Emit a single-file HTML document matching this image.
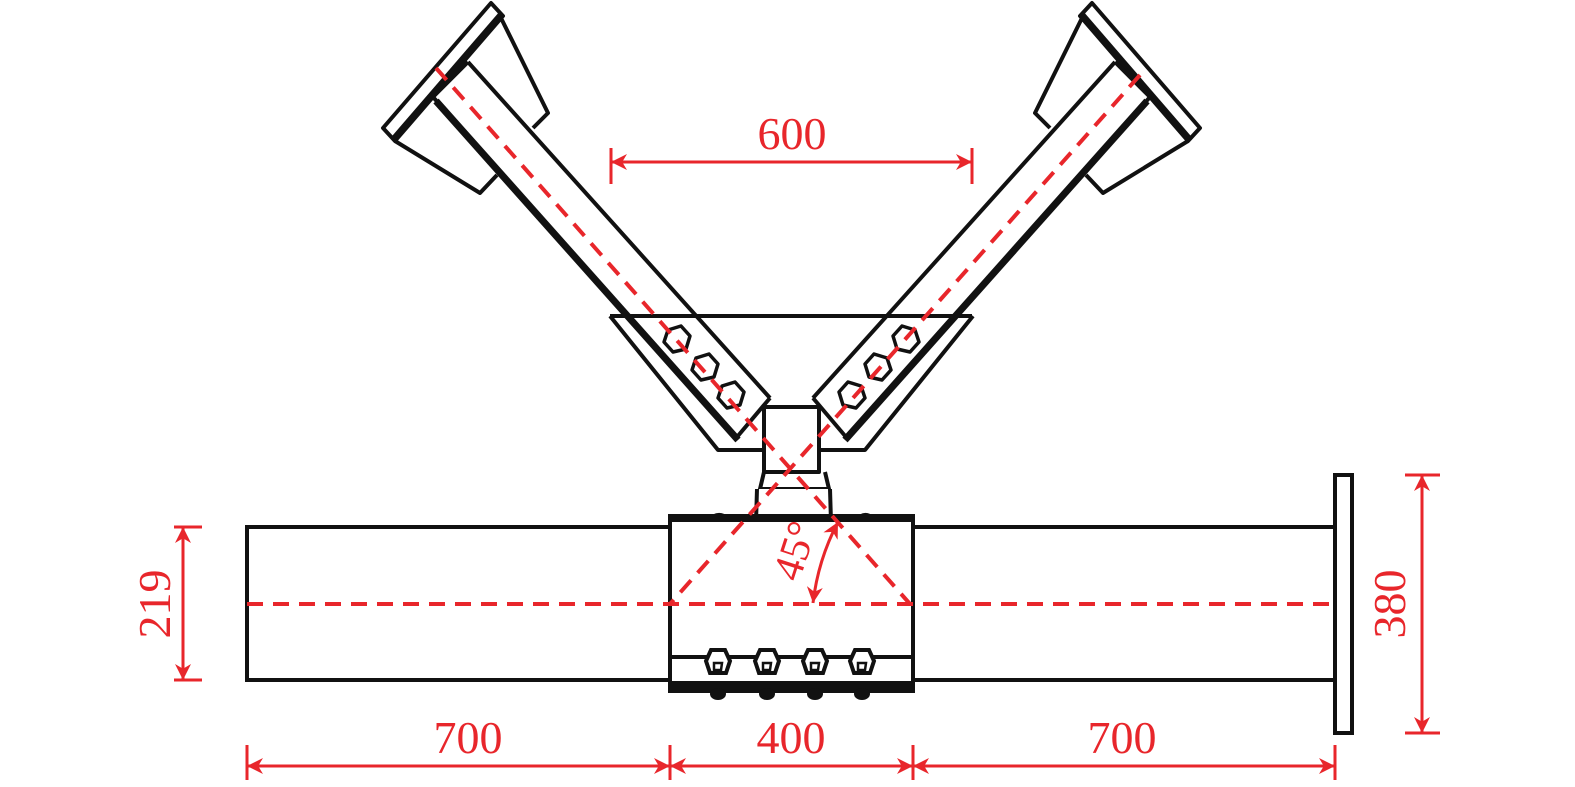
<!DOCTYPE html>
<html><head><meta charset="utf-8"><style>
html,body{margin:0;padding:0;background:#fff;}
svg{display:block;}
text{font-family:"Liberation Serif",serif;fill:#e8262b;}
</style></head><body>
<svg width="1575" height="787" viewBox="0 0 1575 787" xmlns="http://www.w3.org/2000/svg">
<defs>
<g id="arm" fill="none" stroke="#111" stroke-width="4" stroke-linejoin="round">
  <polygon points="383,128 491,3 503,16 395,141" fill="#fff"/>
  <line x1="393" y1="138" x2="500" y2="14"/>
  <polyline points="500,16 548,113 533,128"/>
  <polyline points="395,141 480,193 497,175"/>
  <line x1="468" y1="62" x2="770" y2="398"/>
  <line x1="433" y1="97" x2="737" y2="437"/>
  <line x1="433" y1="97" x2="468" y2="62"/>
  <line x1="770" y1="398" x2="737" y2="437"/>
  <line x1="436" y1="101" x2="738" y2="440" stroke-width="7"/>
  <polyline points="610,316 718,450 763,450"/>
  <g stroke-width="3.5">
    <polygon points="668,330 681,326 690,336 686,349 673,352 664,342"/>
    <polygon points="696,358 709,354 718,364 714,377 701,380 692,370"/>
    <polygon points="722,386 735,382 744,392 740,405 727,408 718,398"/>
  </g>
</g>
<g id="bolt" fill="#fff" stroke="#111" stroke-width="4">
  <polygon points="-7,-12 7,-12 12,-1 8,11 -8,11 -12,-1"/>
  <polygon points="-4,1 4,1 3,8 -4,8" stroke-width="2.5"/>
</g>
<marker id="ar" viewBox="0 0 10 10" refX="10" refY="5" markerWidth="30" markerHeight="16" markerUnits="userSpaceOnUse" orient="auto-start-reverse">
  <path d="M0,0 L10,5 L0,10 L3,5 z" fill="#e8262b"/>
</marker>
</defs>

<use href="#arm"/>
<use href="#arm" transform="translate(1583,0) scale(-1,1)"/>
<line x1="610" y1="316" x2="972" y2="316" stroke="#111" stroke-width="4"/>

<g fill="none" stroke="#111" stroke-width="4" stroke-linejoin="round">
  <rect x="764" y="407" width="55" height="65" fill="#fff"/>
  <polyline points="764,472 760,489 829,489 825,472"/>
  <path d="M757,489 L756,522 Q793,545 831,522 L830,489" fill="#fff"/>
</g>

<g fill="none" stroke="#111" stroke-width="4">
  <rect x="247" y="527" width="423" height="153"/>
  <rect x="913" y="527" width="422" height="153"/>
  <rect x="1335" y="475" width="17" height="258"/>
  <rect x="670" y="518" width="243" height="170" fill="#fff"/>
  <line x1="670" y1="657" x2="913" y2="657"/>
  <path d="M708,520 Q718,510 728,518 M855,520 Q865,510 873,518" stroke-width="3"/>
</g>
<rect x="668" y="514" width="247" height="8" fill="#111"/>
<rect x="668" y="681" width="247" height="12" fill="#111"/>
<g fill="#111">
  <ellipse cx="718" cy="694" rx="8" ry="6"/><ellipse cx="767" cy="694" rx="8" ry="6"/>
  <ellipse cx="815" cy="694" rx="8" ry="6"/><ellipse cx="862" cy="694" rx="8" ry="6"/>
</g>
<use href="#bolt" x="718" y="662"/><use href="#bolt" x="767" y="662"/>
<use href="#bolt" x="815" y="662"/><use href="#bolt" x="862" y="662"/>

<g stroke="#e8262b" stroke-width="4" fill="none" stroke-dasharray="16,10">
  <line x1="247" y1="604" x2="1335" y2="604"/>
  <line x1="436" y1="68" x2="910" y2="604"/>
  <line x1="1140" y1="75" x2="670" y2="604"/>
</g>

<g stroke="#e8262b" stroke-width="3" fill="none">
  <line x1="611" y1="162" x2="972" y2="162" marker-start="url(#ar)" marker-end="url(#ar)"/>
  <line x1="611" y1="148" x2="611" y2="184"/><line x1="972" y1="148" x2="972" y2="184"/>
  <line x1="183" y1="527" x2="183" y2="680" marker-start="url(#ar)" marker-end="url(#ar)"/>
  <line x1="174" y1="527" x2="202" y2="527"/><line x1="174" y1="680" x2="202" y2="680"/>
  <line x1="1422" y1="475" x2="1422" y2="733" marker-start="url(#ar)" marker-end="url(#ar)"/>
  <line x1="1405" y1="475" x2="1440" y2="475"/><line x1="1405" y1="733" x2="1440" y2="733"/>
  <line x1="247" y1="766" x2="670" y2="766" marker-start="url(#ar)" marker-end="url(#ar)"/>
  <line x1="670" y1="766" x2="913" y2="766" marker-start="url(#ar)" marker-end="url(#ar)"/>
  <line x1="913" y1="766" x2="1335" y2="766" marker-start="url(#ar)" marker-end="url(#ar)"/>
  <line x1="247" y1="745" x2="247" y2="780"/><line x1="670" y1="745" x2="670" y2="780"/>
  <line x1="913" y1="745" x2="913" y2="780"/><line x1="1335" y1="745" x2="1335" y2="780"/>
  <path d="M813,603 Q818,560 838,522" marker-start="url(#ar)" marker-end="url(#ar)"/>
</g>
<text x="792" y="149" font-size="46" text-anchor="middle">600</text>
<text x="468" y="753" font-size="46" text-anchor="middle">700</text>
<text x="791" y="753" font-size="46" text-anchor="middle">400</text>
<text x="1122" y="753" font-size="46" text-anchor="middle">700</text>
<text transform="translate(170,604) rotate(-90)" font-size="46" text-anchor="middle">219</text>
<text transform="translate(1405,604) rotate(-90)" font-size="46" text-anchor="middle">380</text>
<text transform="translate(808,555) rotate(-72)" font-size="42" text-anchor="middle">45°</text>
</svg>
</body></html>
